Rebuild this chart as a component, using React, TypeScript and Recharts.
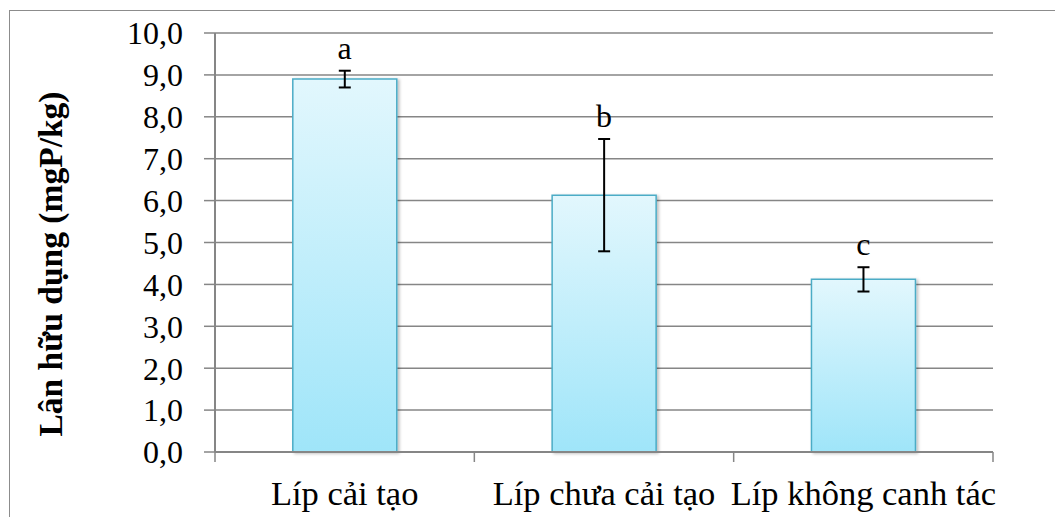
import React from 'react';
import {
  ComposedChart,
  Bar,
  Line,
  XAxis,
  YAxis,
  CartesianGrid,
  ErrorBar,
  LabelList,
  Label,
} from 'recharts';

// Available phosphorus by land-use type
const categories = ['Líp cải tạo', 'Líp chưa cải tạo', 'Líp không canh tác'];
const phosphorus = [8.9, 6.13, 4.12];
const stdError = [0.2, 1.34, 0.29];
const groupLetters = ['a', 'b', 'c'];
const yTicks = [0, 1, 2, 3, 4, 5, 6, 7, 8, 9, 10];

const data = categories.map((name, i) => ({
  name,
  value: phosphorus[i],
  err: stdError[i],
  upper: phosphorus[i] + stdError[i],
  letter: groupLetters[i],
}));

const FONT = '"Liberation Serif", "Times New Roman", serif';
const GRID = '#868686';

const CategoryTick = (props: any) => {
  const { x, y, payload, index } = props;
  const half = payload.offset ?? 0;
  const last = index === categories.length - 1;
  return (
    <g>
      <line x1={x - half} x2={x - half} y1={y} y2={y + 10} stroke={GRID} strokeWidth={1.5} />
      {last && (
        <line x1={x + half} x2={x + half} y1={y} y2={y + 10} stroke={GRID} strokeWidth={1.5} />
      )}
      <text x={x} y={y + 53} textAnchor="middle" fill="#000" fontSize={34.5} fontFamily={FONT}>
        {payload.value}
      </text>
    </g>
  );
};

export default function App() {
  return (
    <div style={{ position: 'absolute', left: 0, top: 0, width: 1055, height: 517, background: '#fff', overflow: 'hidden' }}>
      <div
        style={{
          position: 'absolute',
          left: 9,
          top: 10,
          width: 1100,
          height: 600,
          border: '1.5px solid #8c8c8c',
        }}
      />
      <svg width={0} height={0} style={{ position: 'absolute' }}>
        <defs>
          <linearGradient id="barFill" x1="0" y1="0" x2="0" y2="1">
            <stop offset="0%" stopColor="#e2f7fd" />
            <stop offset="100%" stopColor="#9fe5f9" />
          </linearGradient>
          <filter id="barShadow" x="-10%" y="-10%" width="130%" height="130%">
            <feDropShadow dx="2" dy="1" stdDeviation="1.5" floodColor="#000" floodOpacity="0.25" />
          </filter>
        </defs>
      </svg>
      <div style={{ position: 'absolute', left: 0, top: 0 }}>
        <ComposedChart
          width={1055}
          height={517}
          data={data}
          margin={{ top: 33, right: 62, bottom: 0, left: 0 }}
          barCategoryGap="30%"
        >
          <CartesianGrid vertical={false} stroke={GRID} strokeWidth={1.5} />
          <XAxis
            dataKey="name"
            height={65}
            axisLine={{ stroke: GRID, strokeWidth: 2 }}
            tickLine={false}
            tickSize={0}
            tickMargin={0}
            interval={0}
            tick={<CategoryTick />}
          />
          <YAxis
            width={215}
            domain={[0, 10]}
            ticks={yTicks}
            interval={0}
            axisLine={{ stroke: GRID, strokeWidth: 2 }}
            tickLine={{ stroke: GRID, strokeWidth: 1.5 }}
            tickSize={11}
            tickMargin={21}
            tickFormatter={(v: number) => v.toFixed(1).replace('.', ',')}
            tick={{ fill: '#000', fontSize: 32, fontFamily: FONT }}
          >
            <Label
              content={() => (
                <text
                  x={50}
                  y={264}
                  transform="rotate(-90 50 264)"
                  textAnchor="middle"
                  dominantBaseline="central"
                  fontSize={33.5}
                  fontWeight="bold"
                  fontFamily={FONT}
                  fill="#000"
                >
                  Lân hữu dụng (mgP/kg)
                </text>
              )}
            />
          </YAxis>
          <Bar
            dataKey="value"
            fill="url(#barFill)"
            stroke="#4bacc6"
            strokeWidth={1.5}
            filter="url(#barShadow)"
            isAnimationActive={false}
          >
            <ErrorBar dataKey="err" width={6} strokeWidth={2} stroke="#000" />
          </Bar>
          <Line
            dataKey="upper"
            stroke="none"
            dot={false}
            activeDot={false}
            isAnimationActive={false}
          >
            <LabelList
              dataKey="letter"
              position="top"
              offset={12}
              fill="#000"
              fontSize={32}
              fontFamily={FONT}
            />
          </Line>
        </ComposedChart>
      </div>
    </div>
  );
}
